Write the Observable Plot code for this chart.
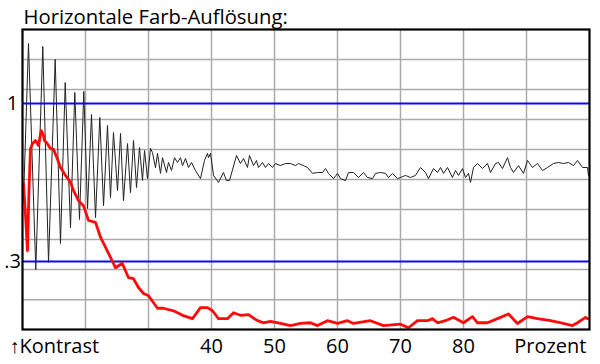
<!DOCTYPE html>
<html><head><meta charset="utf-8">
<script src="https://cdn.jsdelivr.net/npm/d3@7"></script>
<script src="https://cdn.jsdelivr.net/npm/@observablehq/plot@0.6"></script>
<style>body{margin:0;background:#fff}</style>
</head><body><div id="chart"></div>
<script>
const title = "Horizontale Farb-Auflösung:";
const xTickValues = [40, 50, 60, 70, 80];
const xGrid = [20, 30, 40, 50, 60, 70, 80, 90];
const yGrid = [1.398, 1.113, 0.885, 0.704, 0.560, 0.446, 0.355, 0.282, 0.224];
const yRefValues = [1, 0.3];
const yRefLabels = ["1", ".3"];

// black curve: percent, contrast
const lumaX = [10.16,10.95,12.11,13.22,14.13,15.19,16.03,16.78,17.62,18.30,19.05,19.73,20.32,20.95,21.59,22.27,22.86,23.49,23.97,24.44,25.08,25.56,26.03,26.67,27.14,27.62,28.10,28.57,29.05,29.37,29.84,30.32,30.63,31.11,31.43,31.90,32.22,32.86,33.17,33.65,34.13,34.60,35.08,35.40,35.87,36.35,36.83,37.46,38.25,38.89,39.37,39.52,39.84,40.32,41.11,41.90,42.38,42.86,43.97,44.60,45.08,45.71,46.03,46.67,47.14,47.46,48.10,48.57,49.05,49.68,50.16,50.95,51.75,52.54,53.33,53.81,54.60,55.24,56.03,56.83,57.62,58.10,58.57,59.37,60.00,60.48,61.27,61.75,62.54,63.33,64.13,64.76,65.56,66.03,66.83,67.62,68.10,68.73,69.52,70.00,70.79,71.59,72.38,73.17,73.97,74.44,75.24,75.87,76.35,76.83,77.46,78.25,78.73,79.21,79.84,80.32,80.79,81.11,81.59,82.22,83.02,83.81,84.29,85.08,85.56,86.19,86.98,87.46,87.94,88.73,89.52,90.16,90.95,91.75,92.54,93.33,94.29,95.08,95.87,96.67,97.46,98.10,98.89,99.68,99.84];
const lumaY = [0.477,1.58,0.282,1.544,0.298,1.40,0.344,1.174,0.388,1.088,0.413,1.096,0.449,0.920,0.419,0.899,0.459,0.846,0.488,0.802,0.515,0.796,0.477,0.737,0.507,0.754,0.527,0.715,0.556,0.699,0.564,0.710,0.688,0.613,0.684,0.587,0.662,0.591,0.638,0.600,0.662,0.638,0.662,0.623,0.658,0.614,0.638,0.600,0.564,0.648,0.684,0.662,0.684,0.578,0.548,0.591,0.556,0.556,0.673,0.633,0.658,0.614,0.673,0.623,0.648,0.614,0.638,0.614,0.633,0.614,0.633,0.623,0.633,0.633,0.623,0.633,0.623,0.614,0.587,0.591,0.591,0.609,0.587,0.564,0.587,0.564,0.556,0.591,0.591,0.569,0.591,0.569,0.564,0.587,0.591,0.587,0.569,0.587,0.564,0.569,0.578,0.569,0.578,0.614,0.591,0.564,0.609,0.591,0.614,0.587,0.614,0.569,0.600,0.578,0.609,0.569,0.587,0.548,0.614,0.633,0.609,0.633,0.591,0.633,0.638,0.609,0.662,0.614,0.591,0.623,0.587,0.648,0.614,0.633,0.600,0.614,0.633,0.638,0.633,0.638,0.623,0.648,0.614,0.614,0.578];

// red curve: percent, contrast
const chromaX = [10.16,10.48,10.79,11.03,11.27,11.59,12.06,12.54,12.97,13.33,13.49,13.92,14.44,14.92,15.51,16.03,16.83,17.62,18.10,18.89,19.68,20.48,21.59,22.38,23.44,24.76,25.83,26.83,27.62,28.41,29.21,30.00,31.43,32.38,33.97,35.40,36.98,38.25,39.37,40.16,41.11,42.54,43.49,44.60,45.87,47.30,48.25,49.37,50.95,52.54,54.13,55.71,56.83,58.41,60.00,61.59,62.54,65.24,67.30,70.00,71.27,72.70,74.29,75.08,75.87,77.14,78.41,80.00,81.43,82.22,83.81,85.40,87.14,88.57,90.16,91.75,93.81,95.87,97.30,98.10,98.89,99.37,99.68];
const chromaY = [0.544,0.426,0.326,0.515,0.710,0.736,0.754,0.726,0.814,0.784,0.754,0.737,0.710,0.705,0.658,0.614,0.578,0.548,0.515,0.477,0.459,0.410,0.404,0.361,0.326,0.286,0.296,0.265,0.263,0.246,0.235,0.231,0.210,0.210,0.206,0.199,0.194,0.211,0.211,0.206,0.194,0.194,0.203,0.199,0.200,0.191,0.188,0.190,0.187,0.184,0.187,0.188,0.184,0.191,0.187,0.191,0.187,0.191,0.184,0.186,0.181,0.191,0.191,0.194,0.188,0.191,0.196,0.188,0.197,0.188,0.188,0.194,0.201,0.187,0.197,0.194,0.191,0.187,0.184,0.188,0.193,0.196,0.194];

const luma = lumaX.map((x, i) => ({x, y: lumaY[i]}));
const chroma = chromaX.map((x, i) => ({x, y: chromaY[i]}));
const yRefs = yRefValues.map((v, i) => ({v, label: yRefLabels[i]}));

const chart = Plot.plot({
  width: 600, height: 364,
  marginLeft: 22, marginRight: 11, marginTop: 29, marginBottom: 35,
  style: {fontFamily: "'Open Sans', sans-serif", fontSize: "20px", background: "#fff", color: "#000"},
  x: {domain: [10, 100], axis: null},
  y: {type: "log", domain: [0.1786, 1.758], axis: null},
  marks: [
    Plot.ruleX(xGrid, {stroke: "#aaa", strokeWidth: 1.5}),
    Plot.ruleY(yGrid, {stroke: "#aaa", strokeWidth: 1.5}),
    Plot.line(luma, {x: "x", y: "y", stroke: "#222", strokeWidth: 1}),
    Plot.ruleY(yRefValues, {stroke: "#0a0af0", strokeWidth: 2}),
    Plot.line(chroma, {x: "x", y: "y", stroke: "#ff0a0a", strokeWidth: 2.8, strokeLinejoin: "round"}),
    Plot.frame({stroke: "#000", strokeWidth: 2.2}),
    Plot.text(yRefs, {y: "v", text: "label", frameAnchor: "left", dx: -10, textAnchor: "middle", lineAnchor: "middle", fontSize: 20}),
    Plot.text(xTickValues, {x: d => d, text: d => String(d), frameAnchor: "bottom", dy: 23, lineAnchor: "bottom", fontSize: 20}),
    Plot.text(["\u2191Kontrast"], {frameAnchor: "bottom-left", dx: -13, dy: 23, textAnchor: "start", lineAnchor: "bottom", fontSize: 20}),
    Plot.text(["Prozent"], {frameAnchor: "bottom-right", dx: -3, dy: 23, textAnchor: "end", lineAnchor: "bottom", fontSize: 20}),
    Plot.text([title], {frameAnchor: "top-left", dx: 1, dy: -6, textAnchor: "start", lineAnchor: "bottom", fontSize: 20.3})
  ]
});
document.getElementById("chart").append(chart);
</script>
</body></html>
